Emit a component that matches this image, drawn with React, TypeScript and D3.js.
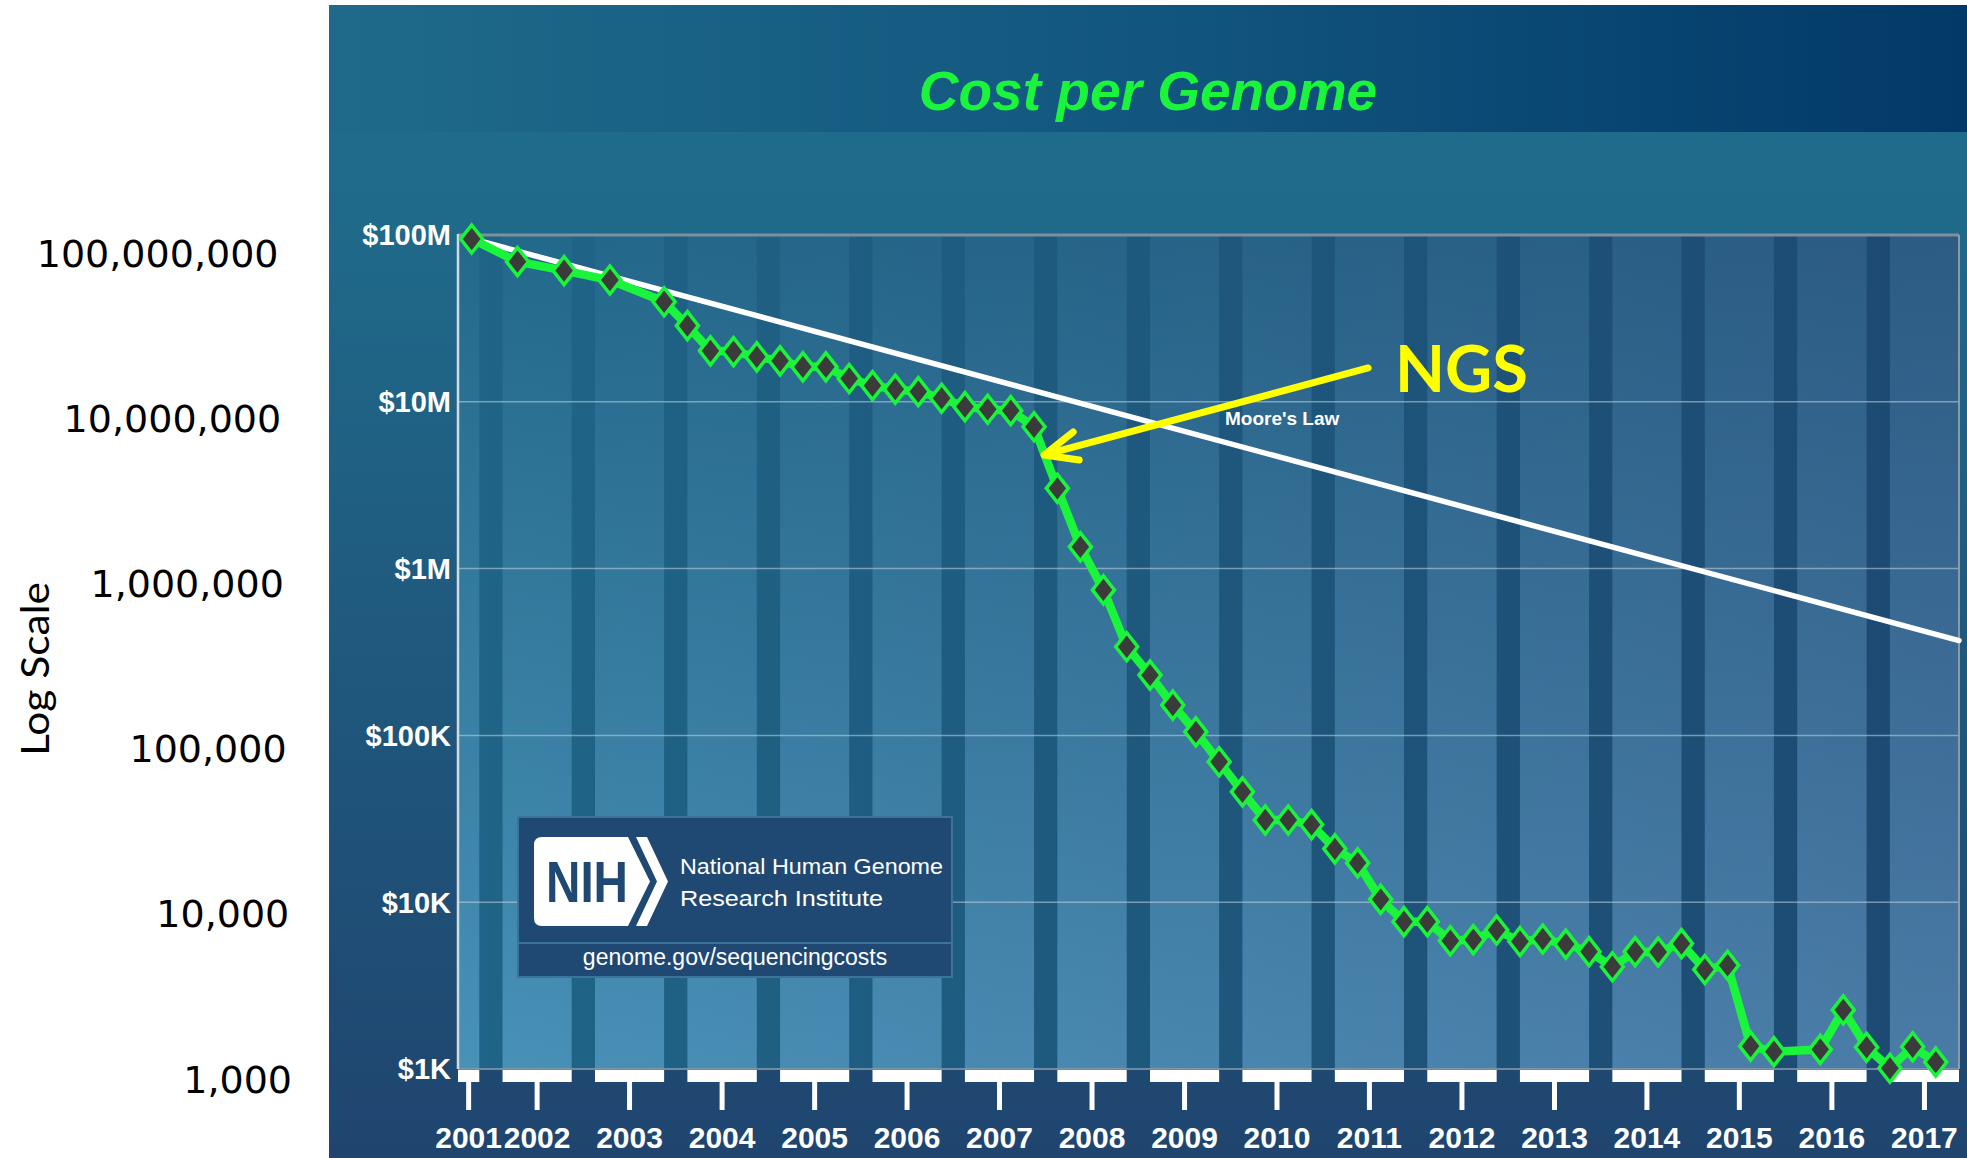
import React, { useRef, useEffect } from 'react';
import * as d3 from 'd3';

// Cost per genome (USD)
const sampleDates = [
  '2001-09', '2002-03', '2002-09', '2003-03', '2003-10',
  '2004-01', '2004-04', '2004-07', '2004-10',
  '2005-01', '2005-04', '2005-07', '2005-10',
  '2006-01', '2006-04', '2006-07', '2006-10',
  '2007-01', '2007-04', '2007-07', '2007-10',
  '2008-01', '2008-04', '2008-07', '2008-10',
  '2009-01', '2009-04', '2009-07', '2009-10',
  '2010-01', '2010-04', '2010-07', '2010-10',
  '2011-01', '2011-04', '2011-07', '2011-10',
  '2012-01', '2012-04', '2012-07', '2012-10',
  '2013-01', '2013-04', '2013-07', '2013-10',
  '2014-01', '2014-04', '2014-07', '2014-10',
  '2015-01', '2015-04', '2015-07', '2015-10',
  '2016-04', '2016-07', '2016-10',
  '2017-01', '2017-04', '2017-07'
];

const genomeCosts = [
  94600000, 69200000, 61100000, 53700000, 39800000,
  28600000, 20200000, 20000000, 18600000,
  17600000, 16200000, 16200000, 13800000,
  12500000, 11900000, 11500000, 10500000,
  9350000, 9020000, 8850000, 7090000,
  3030000, 1350000, 745000, 340000,
  230000, 152000, 105000, 69500,
  45900, 31100, 31100, 29200,
  20900, 17200, 10400, 7640,
  7640, 5870, 5970, 6810,
  5810, 6020, 5610, 5050,
  4100, 5050, 5030, 5650,
  3950, 4190, 1370, 1270,
  1310, 2260, 1350,
  1010, 1360, 1100
];

// Moore's law reference line (end points)
const mooreDates = ['2001-09', '2017-10'];
const mooreCosts = [95000000, 370000];

const yearLabels = [
  '2001', '2002', '2003', '2004', '2005', '2006', '2007', '2008', '2009',
  '2010', '2011', '2012', '2013', '2014', '2015', '2016', '2017'
];

const costTicks = [1e8, 1e7, 1e6, 1e5, 1e4, 1e3];
const costTickLabels = ['$100M', '$10M', '$1M', '$100K', '$10K', '$1K'];
const slideLabels = ['100,000,000', '10,000,000', '1,000,000', '100,000', '10,000', '1,000'];

// where the NGS arrow points
const ngsTarget = { date: '2007-11-10', cost: 4800000 };

const GREEN = '#1af53c';
const SANS = "'Liberation Sans', Arial, sans-serif";

const CostPerGenome = () => {
  const ref = useRef<SVGSVGElement>(null);

  useEffect(() => {
    const svg = d3.select(ref.current);
    svg.selectAll('*').remove();

    const width = 1967;
    const height = 1158;
    const plot = { left: 458, right: 1959, top: 235, bottom: 1069 };

    const parseMonth = d3.timeParse('%Y-%m');
    const parseDay = d3.timeParse('%Y-%m-%d');
    const data = sampleDates.map((d, i) => ({ date: parseMonth(d), cost: genomeCosts[i] }));
    const moore = mooreDates.map((d, i) => ({ date: parseMonth(d), cost: mooreCosts[i] }));

    // Scales
    const start = new Date(2001, 6, 9);
    const x = d3.scaleTime()
      .domain([start, new Date(2017, 9, 1)])
      .range([plot.left, plot.right]);
    const y = d3.scaleLog()
      .domain([1e3, 1e8])
      .range([plot.bottom, plot.top]);

    // Gradients
    const defs = svg.append('defs');
    const grad = (id, x1, y1, x2, y2, stops) => {
      const g = defs.append('linearGradient')
        .attr('id', id)
        .attr('gradientUnits', 'userSpaceOnUse')
        .attr('x1', x1).attr('y1', y1).attr('x2', x2).attr('y2', y2);
      stops.forEach(([o, c, a]) => {
        g.append('stop').attr('offset', o).attr('stop-color', c).attr('stop-opacity', a ?? 1);
      });
    };
    grad('panel', 0, 180, 0, height, [[0, '#1f6b8b'], [1, '#1f456f']]);
    grad('header', 329, 0, width, 0, [[0, '#1f6a8a'], [0.5, '#12567f'], [1, '#023968']]);
    grad('plotBase', 0, plot.top, 0, plot.bottom, [[0, '#22698b'], [1, '#4891b7']]);
    grad('plotTint', plot.left, 0, plot.right, 0, [[0, '#542264', 0], [1, '#542264', 0.2]]);
    grad('darkBand', plot.left, 0, plot.right, 0, [[0, '#1f6587'], [1, '#1d4972']]);

    // Page and slide background
    svg.append('rect').attr('width', width).attr('height', height).attr('fill', '#fff');
    svg.append('rect')
      .attr('x', 329).attr('y', 5)
      .attr('width', width - 329).attr('height', height - 5)
      .attr('fill', 'url(#panel)');
    svg.append('rect')
      .attr('x', 329).attr('y', 5)
      .attr('width', width - 329).attr('height', 127)
      .attr('fill', 'url(#header)');

    svg.append('text')
      .attr('x', 1148).attr('y', 110)
      .attr('text-anchor', 'middle')
      .style('font-family', SANS)
      .style('font-size', '55px')
      .style('font-weight', 'bold')
      .style('font-style', 'italic')
      .attr('fill', GREEN)
      .text('Cost per Genome');

    // Plot area with year bands
    const chart = svg.append('g');
    chart.append('rect')
      .attr('x', plot.left).attr('y', plot.top)
      .attr('width', plot.right - plot.left).attr('height', plot.bottom - plot.top)
      .attr('fill', 'url(#plotBase)');
    chart.append('rect')
      .attr('x', plot.left).attr('y', plot.top)
      .attr('width', plot.right - plot.left).attr('height', plot.bottom - plot.top)
      .attr('fill', 'url(#plotTint)');

    const years = yearLabels.map(Number);
    const lightBands = years.map(yr => {
      const s = new Date(yr, 0, 1) < start ? start : new Date(yr, 0, 1);
      const e = new Date(yr, 9, 1);
      return { label: String(yr), x0: x(s), x1: x(e) };
    });
    const darkBands = years.slice(0, -1).map(yr => ({
      x0: x(new Date(yr, 9, 1)),
      x1: x(new Date(yr + 1, 0, 1))
    }));

    chart.selectAll('rect.dark')
      .data(darkBands)
      .join('rect')
      .attr('class', 'dark')
      .attr('x', d => d.x0).attr('y', plot.top)
      .attr('width', d => d.x1 - d.x0).attr('height', plot.bottom - plot.top)
      .attr('fill', 'url(#darkBand)');

    // Grid lines
    chart.selectAll('line.grid')
      .data(costTicks.slice(1, -1))
      .join('line')
      .attr('class', 'grid')
      .attr('x1', plot.left).attr('x2', plot.right)
      .attr('y1', d => y(d)).attr('y2', d => y(d))
      .attr('stroke', '#c6d4de').attr('stroke-opacity', 0.55).attr('stroke-width', 1.5);

    chart.append('line')
      .attr('x1', plot.left).attr('x2', plot.right)
      .attr('y1', y(1e8)).attr('y2', y(1e8))
      .attr('stroke', '#7f8f9e').attr('stroke-width', 3);
    chart.append('line')
      .attr('x1', plot.left).attr('x2', plot.right)
      .attr('y1', y(1e3)).attr('y2', y(1e3))
      .attr('stroke', '#8d9dab').attr('stroke-width', 1.5);
    chart.append('line')
      .attr('x1', plot.right).attr('x2', plot.right)
      .attr('y1', plot.top).attr('y2', plot.bottom)
      .attr('stroke', '#8a9aa8').attr('stroke-width', 2);
    chart.append('line')
      .attr('x1', plot.left).attr('x2', plot.left)
      .attr('y1', plot.top - 1).attr('y2', plot.bottom)
      .attr('stroke', '#d2dae0').attr('stroke-width', 2.5);

    // Y axis labels
    chart.selectAll('text.ylab')
      .data(costTicks)
      .join('text')
      .attr('class', 'ylab')
      .attr('x', plot.left - 7)
      .attr('y', d => y(d))
      .attr('dy', '0.36em')
      .attr('text-anchor', 'end')
      .style('font-family', SANS)
      .style('font-size', '29px')
      .style('font-weight', 'bold')
      .attr('fill', '#fff')
      .text((d, i) => costTickLabels[i]);

    // X axis: white blocks, ticks and year labels
    const xAxis = svg.append('g');
    xAxis.selectAll('rect')
      .data(lightBands)
      .join('rect')
      .attr('x', d => d.x0).attr('y', plot.bottom + 1)
      .attr('width', d => d.x1 - d.x0).attr('height', 12)
      .attr('fill', '#fff');
    xAxis.selectAll('line')
      .data(lightBands)
      .join('line')
      .attr('x1', d => (d.x0 + d.x1) / 2).attr('x2', d => (d.x0 + d.x1) / 2)
      .attr('y1', plot.bottom + 12).attr('y2', plot.bottom + 41)
      .attr('stroke', '#fff').attr('stroke-width', 5);
    xAxis.selectAll('text')
      .data(lightBands)
      .join('text')
      .attr('x', d => (d.x0 + d.x1) / 2)
      .attr('y', 1148)
      .attr('text-anchor', 'middle')
      .style('font-family', SANS)
      .style('font-size', '30px')
      .style('font-weight', 'bold')
      .attr('fill', '#fff')
      .text(d => d.label);

    // Slide annotations on the white margin
    svg.selectAll('text.slide')
      .data(slideLabels)
      .join('text')
      .attr('class', 'slide')
      .attr('x', (d, i) => 278.5 + i * 2.7)
      .attr('y', (d, i) => 253 + i * 165.2)
      .attr('dy', '0.36em')
      .attr('text-anchor', 'end')
      .style('font-family', "'DejaVu Sans', sans-serif")
      .style('font-size', '38px')
      .attr('fill', '#000')
      .text(d => d);

    svg.append('text')
      .attr('transform', 'translate(49, 669) rotate(-90)')
      .attr('text-anchor', 'middle')
      .attr('textLength', 174)
      .attr('lengthAdjust', 'spacingAndGlyphs')
      .style('font-family', "Lato, 'Open Sans', sans-serif")
      .style('font-size', '38px')
      .attr('fill', '#000')
      .text('Log Scale');

    // NIH logo box
    const nih = svg.append('g');
    nih.append('rect')
      .attr('x', 518).attr('y', 817)
      .attr('width', 434).attr('height', 160)
      .attr('fill', '#1f4973')
      .attr('stroke', '#3c7499').attr('stroke-width', 2);
    nih.append('line')
      .attr('x1', 518).attr('x2', 952)
      .attr('y1', 943).attr('y2', 943)
      .attr('stroke', '#3c7499').attr('stroke-width', 2);
    nih.append('path')
      .attr('d', 'M542,837 H628 L650,881.5 L628,926 H542 Q534,926 534,918 V845 Q534,837 542,837 Z')
      .attr('fill', '#fff');
    nih.append('path')
      .attr('d', 'M636,837 H647 L668,881.5 L647,926 H636 L657,881.5 Z')
      .attr('fill', '#fff');
    nih.append('text')
      .attr('x', 546).attr('y', 902)
      .attr('textLength', 82)
      .attr('lengthAdjust', 'spacingAndGlyphs')
      .style('font-family', SANS)
      .style('font-size', '58px')
      .style('font-weight', 'bold')
      .attr('fill', '#1f4973')
      .text('NIH');
    [['National Human Genome', 874, 263], ['Research Institute', 906, 203]].forEach(([t, ty, tl]) => {
      nih.append('text')
        .attr('x', 680).attr('y', ty)
        .attr('textLength', tl)
        .attr('lengthAdjust', 'spacingAndGlyphs')
        .style('font-family', SANS)
        .style('font-size', '21.5px')
        .attr('fill', '#fff')
        .text(t);
    });
    nih.append('text')
      .attr('x', 735).attr('y', 965)
      .attr('text-anchor', 'middle')
      .style('font-family', SANS)
      .style('font-size', '23px')
      .attr('fill', '#fff')
      .text('genome.gov/sequencingcosts');

    // Moore's law line
    const line = d3.line()
      .x(d => x(d.date))
      .y(d => y(d.cost));

    svg.append('path')
      .datum(moore)
      .attr('d', line)
      .attr('fill', 'none')
      .attr('stroke', '#fff')
      .attr('stroke-width', 5.5)
      .attr('stroke-linecap', 'round');

    svg.append('text')
      .attr('x', 1225).attr('y', 425)
      .style('font-family', SANS)
      .style('font-size', '19px')
      .style('font-weight', 'bold')
      .attr('fill', '#fff')
      .text("Moore's Law");

    // Cost per genome line and diamond markers
    svg.append('path')
      .datum(data)
      .attr('d', line)
      .attr('fill', 'none')
      .attr('stroke', GREEN)
      .attr('stroke-width', 8.5)
      .attr('stroke-linejoin', 'round');

    svg.selectAll('path.marker')
      .data(data)
      .join('path')
      .attr('class', 'marker')
      .attr('transform', d => `translate(${x(d.date)}, ${y(d.cost)})`)
      .attr('d', 'M0,-14 L11,0 L0,14 L-11,0 Z')
      .attr('fill', '#3b3b3b')
      .attr('stroke', GREEN)
      .attr('stroke-width', 3.5)
      .attr('stroke-linejoin', 'miter');

    // NGS arrow
    const tipX = x(parseDay(ngsTarget.date));
    const tipY = y(ngsTarget.cost);
    svg.append('path')
      .attr('d', `M${tipX + 324},${tipY - 87} L${tipX},${tipY} M${tipX + 29},${tipY - 23} L${tipX},${tipY} L${tipX + 35},${tipY + 5}`)
      .attr('fill', 'none')
      .attr('stroke', '#ffff00')
      .attr('stroke-width', 7)
      .attr('stroke-linecap', 'round')
      .attr('stroke-linejoin', 'round');

    svg.append('text')
      .attr('x', 1395).attr('y', 392)
      .style('font-family', "Lato, 'Open Sans', sans-serif")
      .style('font-size', '65px')
      .style('font-weight', 'bold')
      .attr('fill', '#ffff00')
      .text('NGS');
  }, []);

  return (
    <svg
      ref={ref}
      width={1967}
      height={1158}
      style={{ position: 'absolute', left: 0, top: 0, display: 'block' }}
    />
  );
};

export default function App() {
  return <CostPerGenome />;
}
